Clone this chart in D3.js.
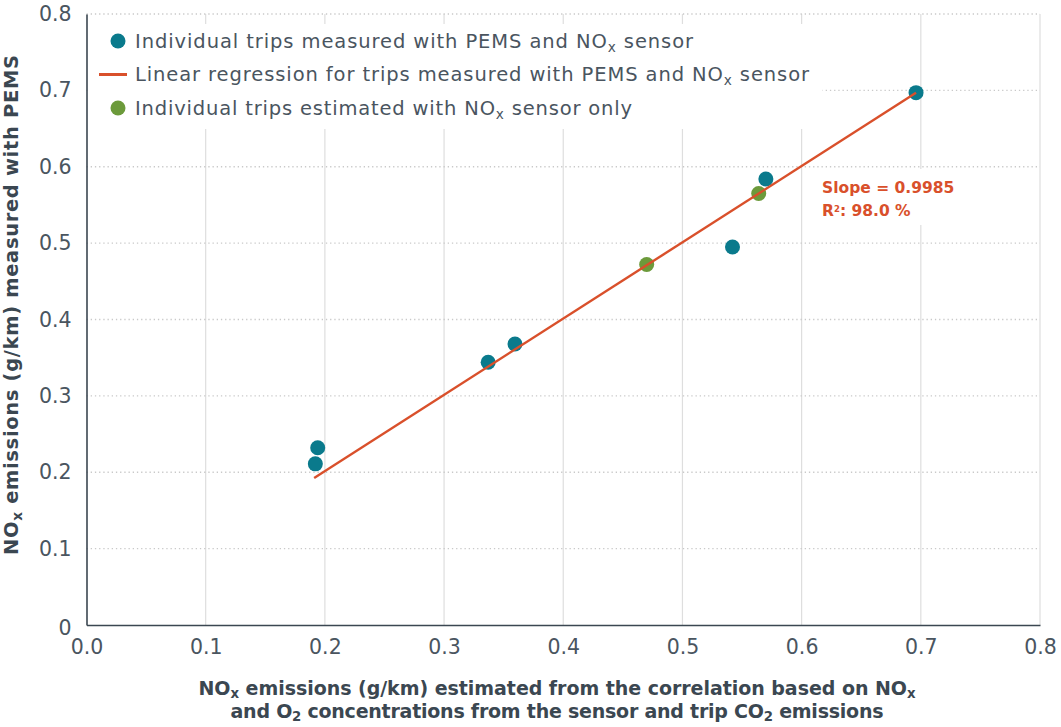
<!DOCTYPE html>
<html>
<head>
<meta charset="utf-8">
<script src="https://cdn.jsdelivr.net/npm/d3@7"></script>
<style>
  html, body { margin: 0; padding: 0; background: #fff; }
  svg { display: block; font-family: "DejaVu Sans", "Open Sans", sans-serif; }
</style>
</head>
<body>
<svg id="chart" width="1061" height="727"></svg>
<script>
// Trips measured with PEMS and the NOx sensor
const pemsX = [0.696, 0.570, 0.542, 0.3595, 0.337, 0.194, 0.192];
const pemsY = [0.697, 0.584, 0.495, 0.368, 0.344, 0.232, 0.211];
// Trips estimated with the NOx sensor only
const sensorX = [0.564, 0.470];
const sensorY = [0.565, 0.472];
// Regression fitted on the PEMS trips
const slope = 0.9985;
const intercept = 0.0018;
const fitRange = [0.191, 0.696];
const r2 = 98.0;

const xTicks = [0, 0.1, 0.2, 0.3, 0.4, 0.5, 0.6, 0.7, 0.8];
const yTicks = [0, 0.1, 0.2, 0.3, 0.4, 0.5, 0.6, 0.7, 0.8];
const legendItems = [
  { type: "dot", color: "#0a7a8c", text: "Individual trips measured with PEMS and NO_x sensor", width: 558 },
  { type: "line", color: "#d9502b", text: "Linear regression for trips measured with PEMS and NO_x sensor", width: 674 },
  { type: "dot", color: "#6c9a3b", text: "Individual trips estimated with NO_x sensor only", width: 497 }
];

(function () {
const svg = d3.select("#chart");
const mLeft = 86.5, mRight = 1040, mTop = 14, mBottom = 625;
const x = d3.scaleLinear().domain([0, 0.8]).range([mLeft, mRight]);
const y = d3.scaleLinear().domain([0, 0.8]).range([mBottom, mTop]);

const textColor = "#4a555f";
const axisColor = "#3b4751";

// writes text where "_x" / "_2" marks a subscript character
function richText(sel, str) {
  const parts = str.split(/(_\w)/);
  parts.forEach(p => {
    if (!p) return;
    if (p[0] === "_") {
      sel.append("tspan").attr("baseline-shift", "-25%").attr("font-size", "0.7em").text(p[1]);
    } else {
      sel.append("tspan").text(p);
    }
  });
}
function fitWidth(sel, w) {
  sel.attr("textLength", w).attr("lengthAdjust", "spacing");
}

// Vertical gridlines (solid)
svg.append("g").selectAll("line").data(xTicks.slice(1)).join("line")
  .attr("x1", d => x(d)).attr("x2", d => x(d))
  .attr("y1", mTop).attr("y2", mBottom)
  .attr("stroke", "#dedede").attr("stroke-width", 1.2);

// Horizontal gridlines (dotted)
svg.append("g").selectAll("line").data(yTicks.slice(1)).join("line")
  .attr("x1", mLeft).attr("x2", mRight)
  .attr("y1", d => y(d)).attr("y2", d => y(d))
  .attr("stroke", "#c9c9c9").attr("stroke-width", 1.3)
  .attr("stroke-dasharray", "1.3,2.9");

// Legend background
svg.append("rect").attr("x", mLeft + 1).attr("y", 24).attr("width", 735).attr("height", 105).attr("fill", "#fff");
// Annotation background
svg.append("rect").attr("x", 815).attr("y", 169).attr("width", 155).attr("height", 56).attr("fill", "#fff");

// Axes
const xAxis = d3.axisBottom(x).tickValues(xTicks).tickSize(0).tickPadding(14).tickFormat(d3.format(".1f"));
const yAxis = d3.axisLeft(y).tickValues(yTicks).tickSize(0).tickPadding(15).tickFormat(d => d === 0 ? "0" : d3.format(".1f")(d));
const gx = svg.append("g").attr("transform", `translate(0,${mBottom})`).call(xAxis);
const gy = svg.append("g").attr("transform", `translate(${mLeft},0)`).call(yAxis);
[gx, gy].forEach(g => {
  g.select(".domain").attr("stroke", axisColor).attr("stroke-width", 1.6);
  g.selectAll("text").attr("fill", textColor).attr("font-size", 20.5).attr("font-family", "'DejaVu Sans', sans-serif");
});
gy.select(".tick text").attr("dy", "0.45em");

// Points
const rDot = 7.5;
svg.append("g").selectAll("circle").data(sensorX.map((v, i) => [v, sensorY[i]])).join("circle")
  .attr("cx", d => x(d[0])).attr("cy", d => y(d[1])).attr("r", rDot).attr("fill", "#6c9a3b");
svg.append("g").selectAll("circle").data(pemsX.map((v, i) => [v, pemsY[i]])).join("circle")
  .attr("cx", d => x(d[0])).attr("cy", d => y(d[1])).attr("r", rDot).attr("fill", "#0a7a8c");

// Regression line
svg.append("line")
  .attr("x1", x(fitRange[0])).attr("y1", y(slope * fitRange[0] + intercept))
  .attr("x2", x(fitRange[1])).attr("y2", y(slope * fitRange[1] + intercept))
  .attr("stroke", "#d9502b").attr("stroke-width", 2.4);

// Regression annotation
const ann = svg.append("g").attr("fill", "#d9502b").attr("font-size", 15.5).attr("font-weight", 700);
ann.append("text").attr("x", 822).attr("y", 193).text(`Slope = ${slope}`);
const r2Text = ann.append("text").attr("x", 822).attr("y", 216);
r2Text.append("tspan").text("R");
r2Text.append("tspan").attr("baseline-shift", "40%").attr("font-size", "0.55em").text("2");
r2Text.append("tspan").text(`: ${r2.toFixed(1)} %`);

// Legend
const lg = svg.append("g").selectAll("g").data(legendItems).join("g")
  .attr("transform", (d, i) => `translate(118,${41 + i * 33.5})`);
lg.filter(d => d.type === "dot").append("circle").attr("r", 7.5).attr("fill", d => d.color);
lg.filter(d => d.type === "line").append("line").attr("x1", -19).attr("x2", 9).attr("stroke", d => d.color).attr("stroke-width", 3);
lg.append("text").attr("x", 17).attr("dy", "0.35em").attr("fill", textColor).attr("font-size", 19.5)
  .each(function(d) { richText(d3.select(this), d.text); fitWidth(d3.select(this), d.width); });

// Axis titles
const xt1 = svg.append("text").attr("text-anchor", "middle").attr("fill", axisColor)
  .attr("font-size", 19).attr("font-weight", 700).attr("x", 557).attr("y", 695).call(fitWidth, 717);
richText(xt1, "NO_x emissions (g/km) estimated from the correlation based on NO_x");
const xt2 = svg.append("text").attr("text-anchor", "middle").attr("fill", axisColor)
  .attr("font-size", 19).attr("font-weight", 700).attr("x", 557).attr("y", 718).call(fitWidth, 653);
richText(xt2, "and O_2 concentrations from the sensor and trip CO_2 emissions");

const yTitle = svg.append("text").attr("text-anchor", "middle").attr("fill", axisColor)
  .attr("font-size", 19.5).attr("font-weight", 700)
  .attr("transform", "translate(18,305) rotate(-90)").call(fitWidth, 500);
richText(yTitle, "NO_x emissions (g/km) measured with PEMS");
})();
</script>
</body>
</html>
